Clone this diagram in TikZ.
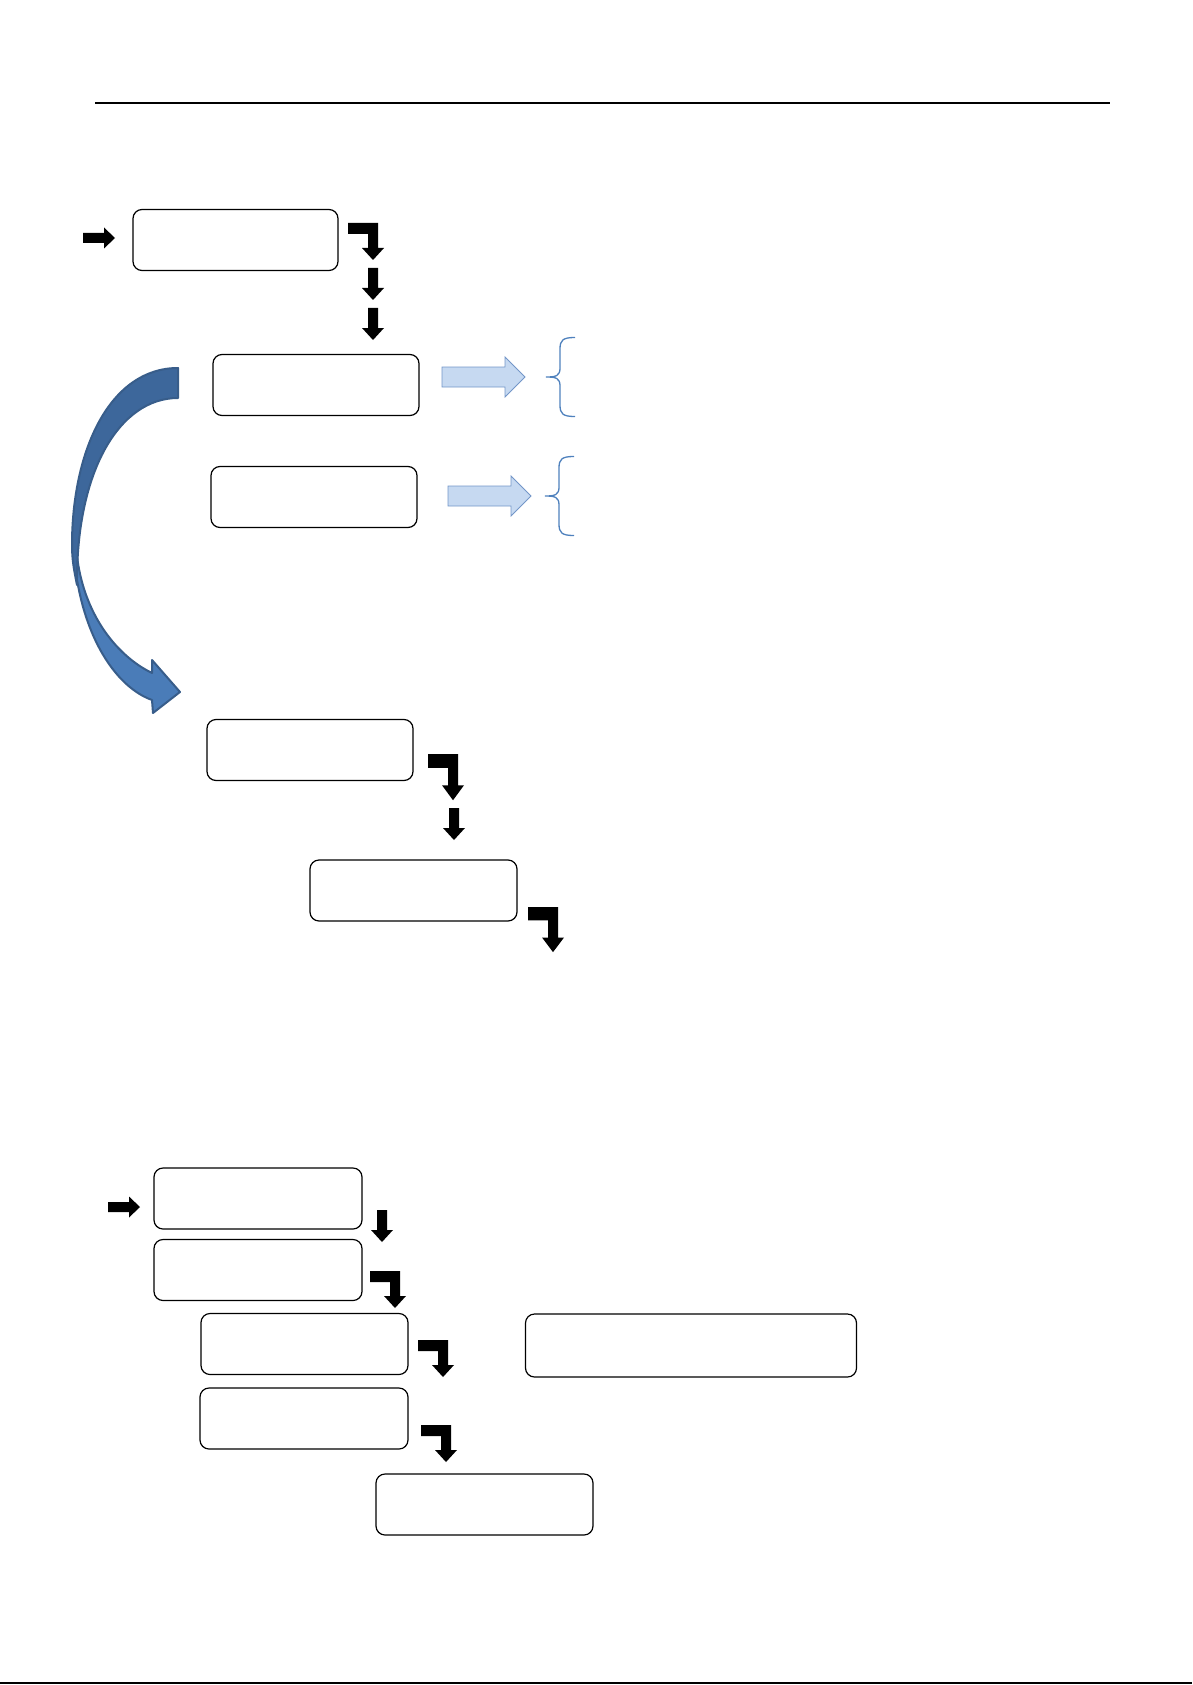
\documentclass[tikz,border=0pt]{standalone}
\usepackage{tikz}
\definecolor{lightfill}{HTML}{C6D9F1}
\definecolor{lightline}{HTML}{7396C8}
\definecolor{bracecol}{HTML}{4F81BD}
\definecolor{curvedark}{HTML}{3D679B}
\definecolor{curvelight}{HTML}{4A7CB8}
\definecolor{curveline}{HTML}{385D8A}

\begin{document}
\begin{tikzpicture}[%
  x=1pt, y=-1pt,
  box/.style={draw, rounded corners=9pt, line width=1.2pt,
    minimum width=206pt, minimum height=61pt, inner sep=0pt},
  rarr/.pic={\fill (0,-5) -- (21,-5) -- (21,-10.5) -- (32,0) -- (21,10.5) -- (21,5) -- (0,5) -- cycle;},
  darr/.pic={\fill (-5,0) -- (5,0) -- (5,20) -- (11,20) -- (0,32) -- (-11,20) -- (-5,20) -- cycle;},
  barr/.pic={\fill (0,0) -- (30,0) -- (30,25) -- (36,25) -- (25,37) -- (14,25) -- (20,25) -- (20,11) -- (0,11) -- cycle;},
  blarr/.pic={\draw[fill=lightfill, draw=lightline, line width=0.8pt]
    (0,-10) -- (63,-10) -- (63,-20) -- (83,0) -- (63,20) -- (63,10) -- (0,10) -- cycle;},
  brc/.pic={\draw[bracecol, line width=1.3pt]
    (29,-39.5) .. controls (17,-39.5) and (14,-37) .. (14,-28) -- (14,-9)
    .. controls (14,-1) and (10,0) .. (0,0)
    .. controls (10,0) and (14,1) .. (14,9) -- (14,28)
    .. controls (14,37) and (17,39.5) .. (29,39.5);}
  ]
  \useasboundingbox (0,0) rectangle (1192,1685);
  % rules at top and bottom
  \draw[line width=1.5pt] (95,103) -- (1110,103);
  \draw[line width=2pt] (0,1683) -- (1192,1683);

  % upper part
  \node[box, minimum width=205pt] (start) at (235.5,240) {};
  \node[box] (upA) at (316,385) {};
  \node[box] (upB) at (314,497) {};
  \node[box] (midA) at (310,750) {};
  \node[box, minimum width=207pt] (midB) at (413.5,890.5) {};

  \pic at (83,238) {rarr};
  \pic at (348,223) {barr};
  \pic at (373,268) {darr};
  \pic at (373,308) {darr};
  \pic at (442,377) {blarr};
  \pic at (448,496) {blarr};
  \pic at (546,377) {brc};
  \pic at (545,496) {brc};
  \pic[yscale=1.25] at (428,754) {barr};
  \pic at (454,808) {darr};
  \pic[yscale=1.22] at (528,907) {barr};

  % curved arrow
  \draw[fill=curvelight, draw=curveline, line width=2pt, line join=round]
    (73,530) .. controls (73,620) and (110,685) .. (152,700)
    -- (153,713) -- (180,692) -- (152,660) -- (152,673)
    .. controls (115,655) and (80,610) .. (76,545) -- cycle;
  \draw[fill=curvedark, draw=curveline, line width=2pt, line join=round]
    (178,368) .. controls (110,368) and (72,450) .. (72,545)
    .. controls (72,560) and (74,570) .. (77,585)
    .. controls (76,470) and (120,398) .. (178,398) -- cycle;

  % lower part
  \node[box, minimum width=208pt] (low1) at (258,1198.5) {};
  \node[box, minimum width=208pt] (low2) at (258,1270) {};
  \node[box, minimum width=207pt] (low3) at (304.5,1344) {};
  \node[box, minimum width=208pt] (low4) at (304,1418.5) {};
  \node[box, minimum width=217pt] (low5) at (484.5,1504.5) {};
  \node[box, minimum width=331pt, minimum height=63pt] (side) at (691,1345.5) {};

  \pic at (108,1207) {rarr};
  \pic at (382,1210) {darr};
  \pic at (370,1271) {barr};
  \pic at (418,1340) {barr};
  \pic at (421,1425) {barr};
\end{tikzpicture}
\end{document}
